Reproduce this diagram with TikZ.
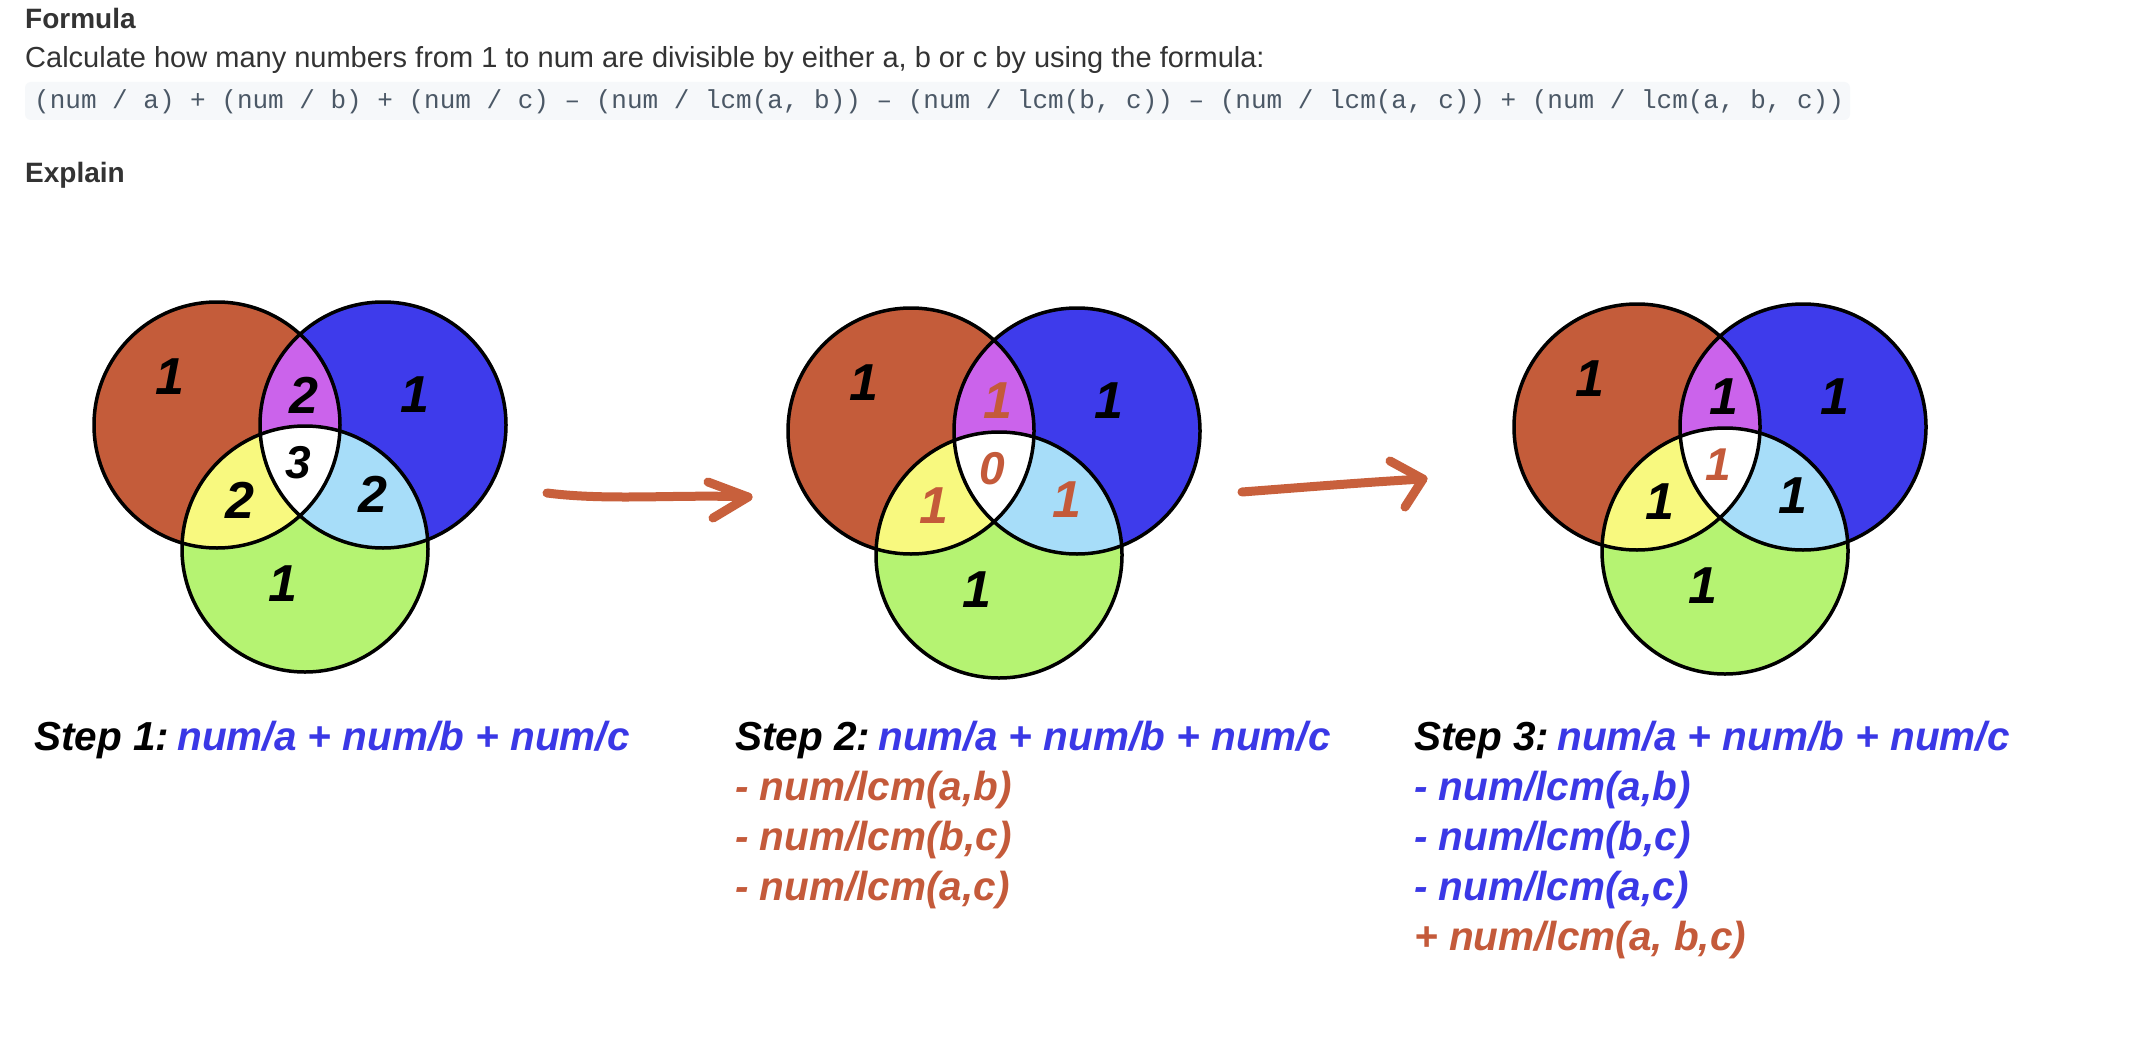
\documentclass[tikz,border=0pt]{standalone}
\usepackage{fontspec}
\setmainfont{Liberation Sans}
\newfontfamily\codefont{Liberation Mono}
\definecolor{cA}{HTML}{C45C3A}
\definecolor{cB}{HTML}{3E3BEB}
\definecolor{cC}{HTML}{B5F372}
\definecolor{cAB}{HTML}{CB63EB}
\definecolor{cAC}{HTML}{F8F97F}
\definecolor{cBC}{HTML}{A7DDF9}
\definecolor{txtblue}{HTML}{3A38E6}
\definecolor{txtred}{HTML}{C45A3A}
\definecolor{arrowc}{HTML}{C8603C}
\definecolor{headc}{HTML}{333333}
\definecolor{codec}{HTML}{4B5866}
\definecolor{codebg}{HTML}{F6F8FA}
\newcommand\vennshapes{%
  \fill[cA] (0,0) circle[radius=123pt];
  \fill[cB] (166,0) circle[radius=123pt];
  \fill[cC] (88,124) circle[radius=123pt];
  \begin{scope}\clip (0,0) circle[radius=123pt]; \fill[cAB] (166,0) circle[radius=123pt];\end{scope}
  \begin{scope}\clip (0,0) circle[radius=123pt]; \fill[cAC] (88,124) circle[radius=123pt];\end{scope}
  \begin{scope}\clip (166,0) circle[radius=123pt]; \fill[cBC] (88,124) circle[radius=123pt];\end{scope}
  \begin{scope}\clip (0,0) circle[radius=123pt]; \clip (166,0) circle[radius=123pt]; \fill[white] (88,124) circle[radius=123pt];\end{scope}
  \draw[vennline] (0,0) circle[radius=123pt];
  \draw[vennline] (166,0) circle[radius=123pt];
  \draw[vennline] (88,124) circle[radius=123pt];
}
\begin{document}
\begin{tikzpicture}[x=1pt,y=-1pt,
  vennline/.style={line width=3.5pt,black},
  digit/.style={inner sep=0pt,font=\fontsize{52}{60}\selectfont\bfseries\itshape},
  cdigit/.style={inner sep=0pt,font=\fontsize{46}{54}\selectfont\bfseries\itshape},
  heading/.style={anchor=base west,inner sep=0pt,text=headc,font=\fontsize{28}{34}\selectfont\bfseries},
  body/.style={anchor=base west,inner sep=0pt,text=headc,font=\fontsize{29}{35}\selectfont},
  codetext/.style={anchor=base west,inner sep=0pt,text=codec,font=\fontsize{26}{31}\selectfont\codefont},
  steptext/.style={anchor=base west,inner sep=0pt,font=\fontsize{40.5}{50}\selectfont\bfseries\itshape},
  arrowline/.style={line width=9pt,arrowc,line cap=round,line join=round}]
\useasboundingbox (0,0) rectangle (2146,1038);
\fill[white] (0,0) rectangle (2146,1038);
% header
\node[heading] (hformula) at (25,29) {Formula};
\node[body] (calc) at (25,68) {Calculate how many numbers from 1 to num are divisible by either a, b or c by using the formula:};
\fill[codebg,rounded corners=6pt] (25,82) rectangle (1850,120);
\node[codetext] (code) at (34,109) {(num / a) + (num / b) + (num / c) – (num / lcm(a, b)) – (num / lcm(b, c)) – (num / lcm(a, c)) + (num / lcm(a, b, c))};
\node[heading] (hexplain) at (25,182) {Explain};
% diagram 1
\begin{scope}[shift={(217,425)}]
  \vennshapes
  \node[digit] (d1a) at (-47,-48) {1};
  \node[digit] (d1b) at (198,-30) {1};
  \node[digit] (d1ab) at (87,-30) {2};
  \node[cdigit] (d1abc) at (81,38) {3};
  \node[digit] (d1ac) at (23,75) {2};
  \node[digit] (d1bc) at (156,69) {2};
  \node[digit] (d1c) at (66,159) {1};
\end{scope}
% diagram 2
\begin{scope}[shift={(911,431)}]
  \vennshapes
  \node[digit] (d2a) at (-47,-48) {1};
  \node[digit] (d2b) at (198,-30) {1};
  \node[digit,text=txtred] (d2ab) at (87,-30) {1};
  \node[cdigit,text=txtred] (d2abc) at (81,38) {0};
  \node[digit,text=txtred] (d2ac) at (23,75) {1};
  \node[digit,text=txtred] (d2bc) at (156,69) {1};
  \node[digit] (d2c) at (66,159) {1};
\end{scope}
% diagram 3
\begin{scope}[shift={(1637,427)}]
  \vennshapes
  \node[digit] (d3a) at (-47,-48) {1};
  \node[digit] (d3b) at (198,-30) {1};
  \node[digit] (d3ab) at (87,-30) {1};
  \node[cdigit,text=txtred] (d3abc) at (81,38) {1};
  \node[digit] (d3ac) at (23,75) {1};
  \node[digit] (d3bc) at (156,69) {1};
  \node[digit] (d3c) at (66,159) {1};
\end{scope}
% arrows
\coordinate (a1s) at (547,493);
\coordinate (a1t) at (748,497);
\coordinate (a1u) at (708,482);
\coordinate (a1l) at (713,518);
\draw[arrowline] (a1s) .. controls (610,501) and (680,494) .. (a1t);
\draw[arrowline] (a1u) -- (a1t) -- (a1l);
\coordinate (a2s) at (1242,492);
\coordinate (a2t) at (1423,479);
\coordinate (a2u) at (1390,461);
\coordinate (a2l) at (1405,507);
\draw[arrowline] (a2s) .. controls (1320,486) and (1370,482) .. (a2t);
\draw[arrowline] (a2u) -- (a2t) -- (a2l);
% step texts
\node[steptext] (s1) at (34,750) {Step 1:\hspace{0.2em}\textcolor{txtblue}{num/a + num/b + num/c}};
\node[steptext] (s2a) at (735,750) {Step 2:\hspace{0.2em}\textcolor{txtblue}{num/a + num/b + num/c}};
\node[steptext,text=txtred] (s2b) at (735,800) {- num/lcm(a,b)};
\node[steptext,text=txtred] (s2c) at (735,850) {- num/lcm(b,c)};
\node[steptext,text=txtred] (s2d) at (735,900) {- num/lcm(a,c)};
\node[steptext] (s3a) at (1414,750) {Step 3:\hspace{0.2em}\textcolor{txtblue}{num/a + num/b + num/c}};
\node[steptext,text=txtblue] (s3b) at (1414,800) {- num/lcm(a,b)};
\node[steptext,text=txtblue] (s3c) at (1414,850) {- num/lcm(b,c)};
\node[steptext,text=txtblue] (s3d) at (1414,900) {- num/lcm(a,c)};
\node[steptext,text=txtred] (s3e) at (1414,950) {+ num/lcm(a, b,c)};
\end{tikzpicture}
\end{document}
